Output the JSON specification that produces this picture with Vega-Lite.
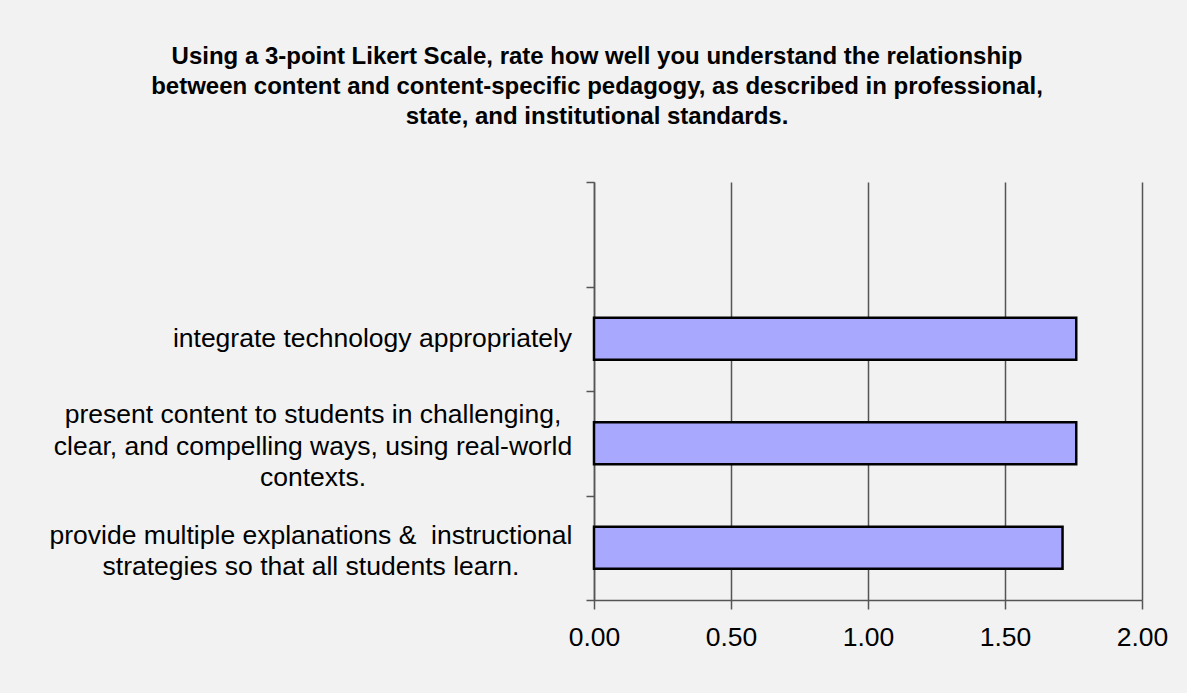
{
  "$schema": "https://vega.github.io/schema/vega-lite/v6.json",
  "autosize": {"type": "none"},
  "width": 548,
  "height": 418,
  "padding": {"left": 594, "top": 182, "right": 45, "bottom": 93},
  "background": "#f2f2f2",
  "title": {
    "text": [
      "Using a 3-point Likert Scale, rate how well you understand the relationship",
      "between content and content-specific pedagogy, as described in professional,",
      "state, and institutional standards."
    ],
    "anchor": "middle",
    "frame": "group",
    "dx": -271,
    "offset": 52,
    "font": "Liberation Sans",
    "fontSize": 24,
    "fontWeight": "bold",
    "lineHeight": 30,
    "color": "#000000"
  },
  "data": {
    "values": [
      {"item": "integrate technology appropriately", "rating": 1.76},
      {"item": "present content to students in challenging,|clear, and compelling ways, using real-world|contexts.", "rating": 1.76},
      {"item": "provide multiple explanations &\u00a0 instructional|strategies so that all students learn.", "rating": 1.71}
    ]
  },
  "encoding": {
    "y": {
      "field": "item",
      "type": "nominal",
      "title": null,
      "scale": {
        "domain": [
          " ",
          "integrate technology appropriately",
          "present content to students in challenging,|clear, and compelling ways, using real-world|contexts.",
          "provide multiple explanations &\u00a0 instructional|strategies so that all students learn."
        ],
        "paddingInner": 0,
        "paddingOuter": 0
      },
      "axis": {
        "tickBand": "extent",
        "labels": false,
        "tickSize": 8,
        "tickColor": "#555555",
        "tickWidth": 1.5,
        "domainColor": "#555555",
        "domainWidth": 1.5,
        "grid": false
      }
    }
  },
  "layer": [
    {
      "mark": {"type": "bar", "fill": "#a8a8ff", "stroke": "#000000", "strokeWidth": 2.5, "height": {"band": 0.4}},
      "encoding": {
        "x": {
          "field": "rating",
          "type": "quantitative",
          "title": null,
          "scale": {"domain": [0, 2], "nice": false},
          "axis": {
            "values": [0, 0.5, 1, 1.5, 2],
            "format": ".2f",
            "labelFont": "Liberation Sans",
            "labelFontSize": 26.5,
            "labelColor": "#000000",
            "labelPadding": 15,
            "tickSize": 9,
            "tickColor": "#555555",
            "tickWidth": 1.5,
            "domainColor": "#555555",
            "domainWidth": 1.5,
            "grid": true,
            "gridColor": "#555555",
            "gridWidth": 1.5,
            "labelFlush": false
          }
        }
      }
    },
    {
      "transform": [{"filter": "indexof(datum.item, 'integrate') == 0"}],
      "mark": {"type": "text", "align": "center", "baseline": "middle", "dx": -221.5, "dy": 0, "lineBreak": "|", "lineHeight": 31.5, "font": "Liberation Sans", "fontSize": 26.5, "color": "#000000"},
      "encoding": {"x": {"datum": 0, "type": "quantitative"}, "text": {"field": "item"}}
    },
    {
      "transform": [{"filter": "indexof(datum.item, 'present') == 0"}],
      "mark": {"type": "text", "align": "center", "baseline": "middle", "dx": -281, "dy": -28, "lineBreak": "|", "lineHeight": 31.5, "font": "Liberation Sans", "fontSize": 26.5, "color": "#000000"},
      "encoding": {"x": {"datum": 0, "type": "quantitative"}, "text": {"field": "item"}}
    },
    {
      "transform": [{"filter": "indexof(datum.item, 'provide') == 0"}],
      "mark": {"type": "text", "align": "center", "baseline": "middle", "dx": -283, "dy": -12, "lineBreak": "|", "lineHeight": 31.5, "font": "Liberation Sans", "fontSize": 26.5, "color": "#000000"},
      "encoding": {"x": {"datum": 0, "type": "quantitative"}, "text": {"field": "item"}}
    }
  ],
  "config": {
    "view": {"stroke": null}
  }
}
